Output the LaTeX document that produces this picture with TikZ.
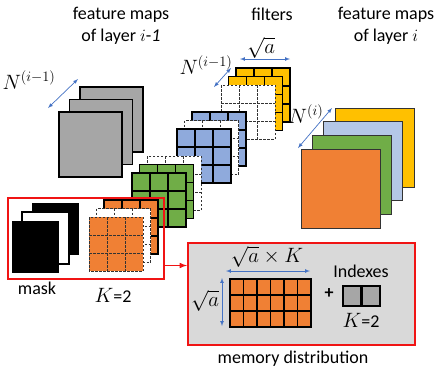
\documentclass[tikz,border=0pt]{standalone}
\usepackage{fontspec}
\setmainfont{Carlito}
\usepackage{tikz}
\usetikzlibrary{calc}
\usetikzlibrary{arrows}
\usetikzlibrary{positioning}
\usepackage{color}
\definecolor{amber}{RGB}{255, 192, 0}
\definecolor{cornflower}{RGB}{143, 170, 220}
\definecolor{paleblue}{RGB}{180, 199, 231}
\definecolor{leaf}{RGB}{112, 173, 71}
\definecolor{tangerine}{RGB}{240, 128, 52}
\definecolor{ash}{RGB}{166, 166, 166}
\definecolor{silver}{RGB}{217, 217, 217}
\definecolor{dimblue}{RGB}{68, 114, 196}
\definecolor{alarm}{RGB}{240, 20, 20}

% one 3x3 slice of a kernel: #1,#2 top left corner, #3 fill, #4 line style
\newcommand{\kslice}[4]{
  \filldraw[#4, fill=#3] (#1,#2) rectangle ++(54,54);
  \foreach \k in {1,2} {
    \draw[#4] (#1+18*\k,#2) -- ++(0,54);
    \draw[#4] (#1,#2+18*\k) -- ++(54,0);
  }
}

\begin{document}
\begin{tikzpicture}[x=1pt, y=-1pt,
    font=\fontsize{18}{22}\selectfont, inner sep=1pt,
    big/.style={font=\fontsize{20}{22}\selectfont},
    ksolid/.style={draw=black, line width=1.4pt},
    kdash/.style={draw=black!80, line width=1pt, dash pattern=on 2.5pt off 1.5pt},
    fmap/.style={draw=black!80, line width=1pt},
    dimarrow/.style={dimblue, line width=0.7pt, latex-latex},
    redbox/.style={draw=alarm, line width=1.5pt, minimum width=#1, anchor=north west, inner sep=0pt}]
    \useasboundingbox (0,0) rectangle (439,373);

    % titles
    \node[align=center] (prevtitle) at (121,26) {feature maps\\of layer $i$-$\mathit{1}$};
    \node              (filtertitle) at (272,14) {filters};
    \node[align=center] (nexttitle) at (386,26) {feature maps\\of layer $i$};

    % feature maps of layer i-1
    \filldraw[fill=ash, line width=1.5pt] (80.0, 87.0) rectangle ++(63,65);
    \filldraw[fill=ash, line width=1.5pt] (69.5, 99.5) rectangle ++(63,65);
    \filldraw[fill=ash, line width=1.5pt] (59.0,112.0) rectangle ++(63,65);
    \coordinate (prevlo) at (48,108);
    \coordinate (prevhi) at (78,79);
    \draw[dimarrow] (prevlo) -- (prevhi);
    \node[big] (nprev) at (29,80) {$N^{(i-1)}$};

    % filters, back to front
    \kslice{236.0}{ 68.0}{amber}{ksolid}
    \kslice{228.5}{ 76.5}{amber}{ksolid}
    \kslice{221.0}{ 85.0}{white}{kdash}
    \kslice{192.0}{112.0}{cornflower}{ksolid}
    \kslice{184.5}{120.5}{white}{kdash}
    \kslice{177.0}{129.0}{cornflower}{ksolid}
    \kslice{147.0}{156.0}{white}{kdash}
    \kslice{139.5}{164.5}{leaf}{ksolid}
    \kslice{132.0}{173.0}{leaf}{ksolid}
    \coordinate (chanlo) at (214,87);
    \coordinate (chanhi) at (231,68);
    \draw[dimarrow] (chanlo) -- (chanhi);
    \node[big] (nchan) at (206,65) {$N^{(i-1)}$};
    \coordinate (sidel) at (240,59);
    \coordinate (sider) at (290,59);
    \draw[dimarrow] (sidel) -- (sider);
    \node[big] (side) at (261,48) {$\sqrt{a}$};

    % feature maps of layer i
    \filldraw[fmap, fill=amber]     (335.0,108.0) rectangle ++(79,79);
    \filldraw[fmap, fill=paleblue]  (323.7,121.7) rectangle ++(79,79);
    \filldraw[fmap, fill=leaf]      (312.3,135.3) rectangle ++(79,79);
    \filldraw[fmap, fill=tangerine] (301.0,149.0) rectangle ++(79,79);
    \coordinate (nextlo) at (298,148);
    \coordinate (nexthi) at (332,108);
    \draw[dimarrow] (nextlo) -- (nexthi);
    \node[big] (nnext) at (306,114) {$N^{(i)}$};

    % masked filter
    \node[redbox=156pt, minimum height=81pt] (maskbox) at (7,197) {};
    \kslice{104.0}{200.0}{tangerine}{ksolid}
    \kslice{ 96.5}{208.5}{white}{kdash}
    \kslice{ 89.0}{217.0}{tangerine}{kdash}
    \fill[black]                             (32,203) rectangle ++(47,52);
    \filldraw[fill=white, line width=1.5pt]  (22,212) rectangle ++(47,52);
    \fill[black]                             (12,221) rectangle ++(47,52);
    \node (masklabel) at (37,288) {mask};
    \node[big] (maskk) at (113,295) {$K$\fontsize{18}{20}\selectfont=2};

    % memory distribution
    \node[redbox=227pt, minimum height=102pt, fill=silver] (membox) at (187,242) {};
    \coordinate (masktail) at ($(maskbox.south east)+(0,-14)$);
    \draw[alarm, line width=1.5pt, -latex] (masktail) -- (masktail -| membox.west);
    \filldraw[fill=tangerine, line width=1.8pt] (230,279) rectangle ++(81,48);
    \foreach \k in {1,...,5}
        \draw[line width=1.1pt] (230+13.5*\k,279) -- ++(0,48);
    \foreach \k in {1,2}
        \draw[line width=1.1pt] (230,279+16*\k) -- ++(81,0);
    \coordinate (rowl) at (226,271);
    \coordinate (rowr) at (310,271);
    \draw[dimarrow] (rowl) -- (rowr);
    \node[big] (rowlabel) at (267,257) {$\sqrt{a}\times K$};
    \coordinate (colt) at (222,278);
    \coordinate (colb) at (222,326);
    \draw[dimarrow] (colt) -- (colb);
    \node[big] (collabel) at (205,301) {$\sqrt{a}$};
    \node (plus) at (329,294) {\textbf{+}};
    \filldraw[fill=ash, line width=1.8pt] (343,286) rectangle ++(37,20);
    \draw[line width=2.2pt] (361.5,286) -- ++(0,20);
    \node (idxlabel) at (361,271) {Indexes};
    \node[big] (idxk) at (361,320) {$K$\fontsize{18}{20}\selectfont=2};
    \node (memlabel) at (293,359) {memory distribution};
\end{tikzpicture}
\end{document}
